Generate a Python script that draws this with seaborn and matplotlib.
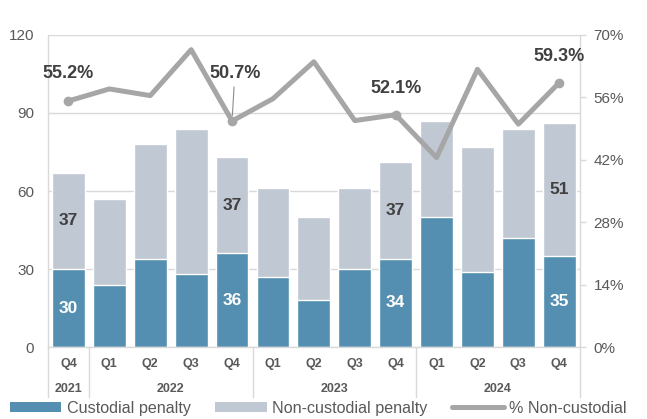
import matplotlib
matplotlib.use('Agg')
import matplotlib.pyplot as plt
import seaborn as sns
import pandas as pd
import numpy as np
from matplotlib.patches import Patch
from matplotlib.lines import Line2D
from matplotlib.transforms import blended_transform_factory

# ---- data ----
quarters = ['Q4', 'Q1', 'Q2', 'Q3', 'Q4', 'Q1', 'Q2', 'Q3', 'Q4', 'Q1', 'Q2', 'Q3', 'Q4']
period_years = ['2021', '2022', '2022', '2022', '2022', '2023', '2023', '2023', '2023',
                '2024', '2024', '2024', '2024']
custodial = [30, 24, 34, 28, 36, 27, 18, 30, 34, 50, 29, 42, 35]
non_custodial = [37, 33, 44, 56, 37, 34, 32, 31, 37, 37, 48, 42, 51]
pct_non_custodial = [55.2, 57.9, 56.4, 66.7, 50.7, 55.7, 64.0, 50.8, 52.1, 42.5, 62.3, 50.0, 59.3]
labeled_idx = [0, 4, 8, 12]
left_ticks = [0, 30, 60, 90, 120]
right_ticks = [0, 14, 28, 42, 56, 70]

BLUE = '#548EB0'
LIGHT = '#C0C8D3'
LINE = '#A6A6A6'
GRID = '#D9D9D9'
TXT = '#595959'
DARK = '#404040'

sns.set_style('white')
plt.rcParams['font.family'] = ['Liberation Sans', 'DejaVu Sans']

df = pd.DataFrame({
    'period': [f'{y} {q}' for y, q in zip(period_years, quarters)],
    'custodial': custodial,
    'non_custodial': non_custodial,
})
df['total'] = df['custodial'] + df['non_custodial']

fig = plt.figure(figsize=(6.47, 4.19), dpi=100)
ax = fig.add_axes([0.0742, 0.1718, 0.8218, 0.7447])

sns.barplot(data=df, x='period', y='total', color=LIGHT, saturation=1, width=0.8, ax=ax, zorder=2)
sns.barplot(data=df, x='period', y='custodial', color=BLUE, saturation=1, width=0.8, ax=ax, zorder=2)

n = len(quarters)
ax.set_xlim(-0.5, n - 0.5)
ax.set_ylim(0, 120)
ax.set_yticks(left_ticks)
ax.yaxis.grid(True, color=GRID, lw=1)
ax.set_axisbelow(True)
ax.set_xlabel('')
ax.set_ylabel('')
ax.set_xticks(range(n))
ax.set_xticklabels(quarters, fontsize=9, fontweight='bold', color=TXT)
ax.tick_params(axis='x', length=0, pad=8)
ax.tick_params(axis='y', length=0, pad=10, labelsize=11, labelcolor=TXT)
for s in ['top', 'right']:
    ax.spines[s].set_visible(False)
for s in ['left', 'bottom']:
    ax.spines[s].set_color(GRID)
    ax.spines[s].set_linewidth(1)

# bar value labels
for i in labeled_idx:
    ax.text(i, custodial[i] / 2, str(custodial[i]), ha='center', va='center',
            color='white', fontsize=12.5, fontweight='bold', zorder=5)
    ax.text(i, custodial[i] + non_custodial[i] / 2, str(non_custodial[i]), ha='center',
            va='center', color=DARK, fontsize=12.5, fontweight='bold', zorder=5)

# category separators & year labels
trans = blended_transform_factory(ax.transData, ax.transAxes)
for xp in [-0.5, 0.5, 4.5, 8.5, n - 0.5]:
    ax.plot([xp, xp], [0, -0.16], transform=trans, color=GRID, lw=1, clip_on=False)
year_names = list(dict.fromkeys(period_years))
for yname in year_names:
    idx = [i for i, y in enumerate(period_years) if y == yname]
    ax.text(np.mean(idx), -0.135, yname, transform=trans, ha='center', va='center',
            fontsize=9, fontweight='bold', color=TXT)

# line on secondary axis
ax2 = ax.twinx()
sns.lineplot(x=list(range(n)), y=pct_non_custodial, ax=ax2, color=LINE, lw=3.6,
             marker='o', markevery=labeled_idx, markersize=7, markeredgewidth=0)
ax2.set_ylim(0, 70)
ax2.set_yticks(right_ticks)
ax2.set_yticklabels([f'{v}%' for v in right_ticks])
ax2.tick_params(axis='y', length=4, width=1, color=GRID, pad=6, labelsize=11, labelcolor=TXT)
for s in ['top', 'left', 'bottom']:
    ax2.spines[s].set_visible(False)
ax2.spines['right'].set_color(GRID)
ax2.spines['right'].set_linewidth(1)
ax2.set_xlim(-0.5, n - 0.5)

offsets = {0: (0, 19.5), 4: (2, 34), 8: (0, 18.7), 12: (0, 19)}
for i in labeled_idx:
    dx, dy = offsets[i]
    kw = {}
    if i == 4:
        kw['arrowprops'] = dict(arrowstyle='-', color='#8C8C8C', lw=0.8, shrinkA=1, shrinkB=4)
    ax2.annotate(f'{pct_non_custodial[i]:.1f}%', xy=(i, pct_non_custodial[i]),
                 xytext=(dx, dy), textcoords='offset points', ha='center', va='center',
                 fontsize=13, fontweight='bold', color=DARK, **kw)

handles = [Patch(facecolor=BLUE, edgecolor='none'),
           Patch(facecolor=LIGHT, edgecolor='none'),
           Line2D([0], [0], color=LINE, lw=3.6)]
labels = ['Custodial penalty', 'Non-custodial penalty', '% Non-custodial']
fig.legend(handles, labels, ncol=3, loc='center', bbox_to_anchor=(0.492, 0.026),
           frameon=False, fontsize=11.6, handlelength=3.2, handleheight=0.55,
           handletextpad=0.35, columnspacing=1.5, labelcolor=TXT, borderpad=0)

fig.savefig('out.png', dpi=100)
